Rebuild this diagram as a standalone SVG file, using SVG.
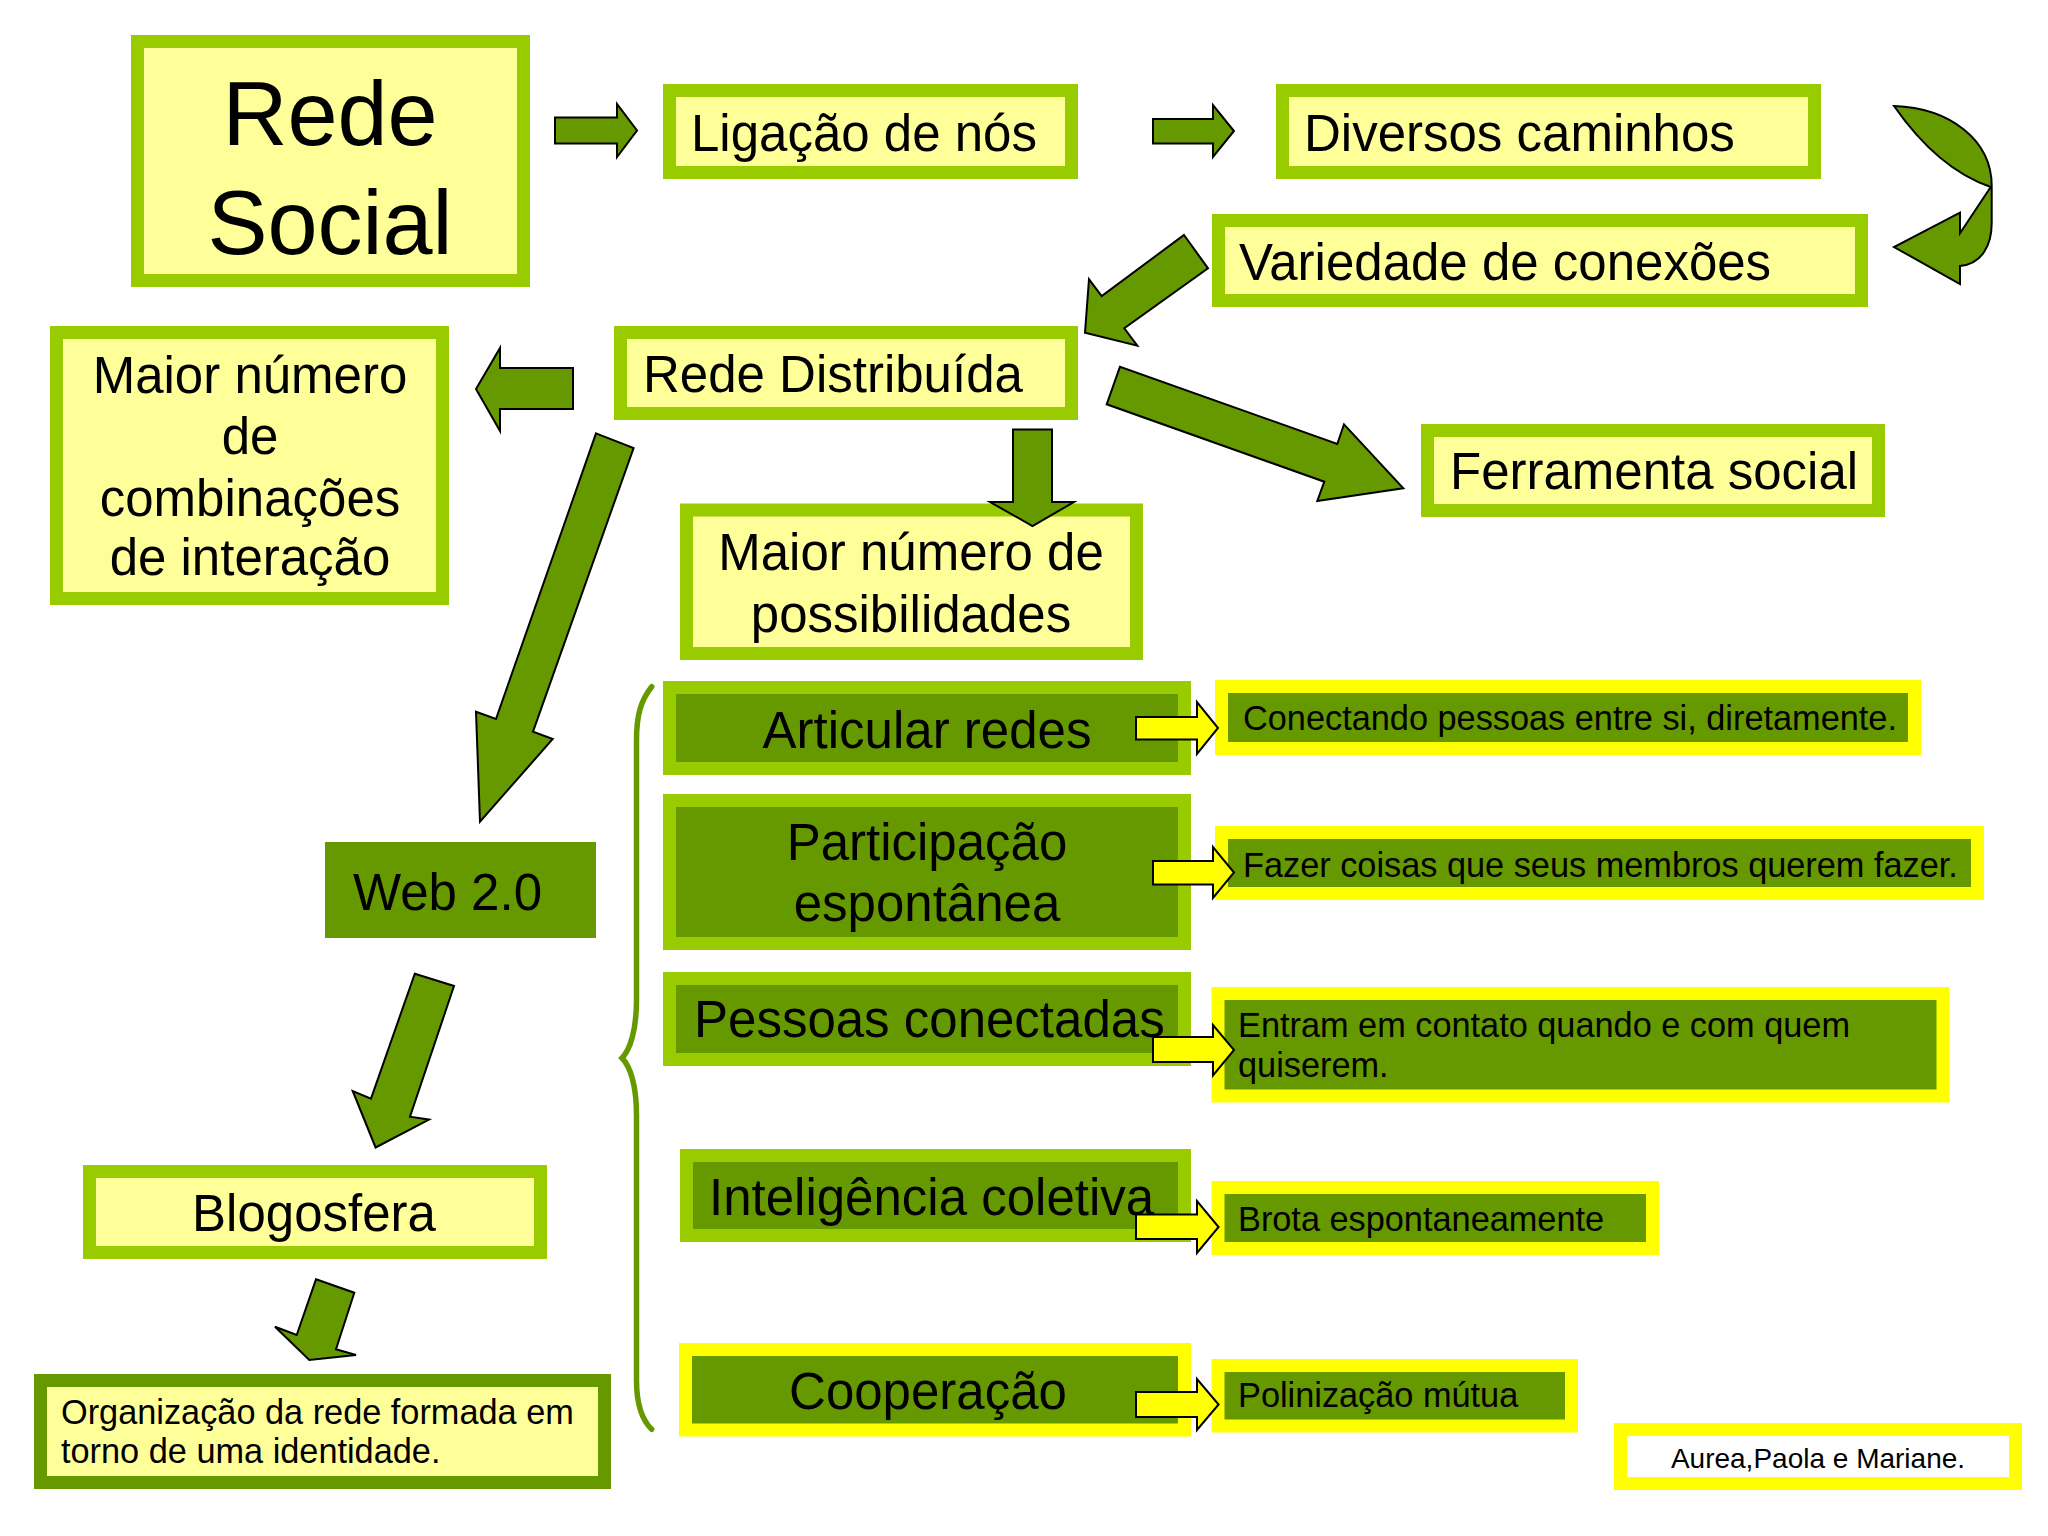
<svg xmlns="http://www.w3.org/2000/svg" width="2048" height="1536" viewBox="0 0 2048 1536">
<style>
text{font-family:"Liberation Sans",Arial,sans-serif;fill:#000}
.lb{fill:#FFFF99;stroke:#99CC00;stroke-width:13}
.db{fill:#669900;stroke:#99CC00;stroke-width:13}
.yb{fill:#669900;stroke:#FFFF00;stroke-width:13}
.ob{fill:#FFFF99;stroke:#669900;stroke-width:13}
.wb{fill:#FFFFFF;stroke:#FFFF00;stroke-width:13}
.t50{font-size:51px}
.t34{font-size:34.3px}
.c{text-anchor:middle}
.ga{fill:#669900;stroke:#000;stroke-width:2;stroke-linejoin:miter}
.ya{fill:#FFFF00;stroke:#000;stroke-width:2}
</style>
<rect width="2048" height="1536" fill="#FFFFFF"/>

<g id="rede-social">
<rect class="lb" x="137.5" y="41.5" width="386" height="239"/>
<text class="c" x="330" y="145" font-size="90">Rede</text>
<text class="c" x="330" y="254" font-size="90">Social</text>
</g>
<g id="ligacao">
<rect class="lb" x="669.5" y="90.5" width="402" height="82"/>
<text class="t50" x="691" y="151">Ligação de nós</text>
</g>
<g id="diversos">
<rect class="lb" x="1282.5" y="90.5" width="532" height="82"/>
<text class="t50" x="1304" y="151">Diversos caminhos</text>
</g>
<g id="variedade">
<rect class="lb" x="1218.5" y="220.5" width="643" height="80"/>
<text class="t50" x="1239" y="280">Variedade de conexões</text>
</g>
<g id="rede-distribuida">
<rect class="lb" x="620.5" y="332.5" width="451" height="81"/>
<text class="t50" x="643" y="392">Rede Distribuída</text>
</g>
<g id="maior-combinacoes">
<rect class="lb" x="56.5" y="332.5" width="386" height="266"/>
<text class="t50 c" x="250" y="393">Maior número</text>
<text class="t50 c" x="250" y="454">de</text>
<text class="t50 c" x="250" y="516">combinações</text>
<text class="t50 c" x="250" y="575">de interação</text>
</g>
<g id="ferramenta">
<rect class="lb" x="1427.5" y="430.5" width="451" height="80"/>
<text class="t50" x="1450" y="489">Ferramenta social</text>
</g>
<g id="maior-possibilidades">
<rect class="lb" x="686.5" y="510" width="450" height="143.5"/>
<text class="t50 c" x="911" y="570">Maior número de</text>
<text class="t50 c" x="911" y="632">possibilidades</text>
</g>
<g id="articular">
<rect class="db" x="669.5" y="687.5" width="515" height="81"/>
<text class="t50 c" x="927" y="748">Articular redes</text>
</g>
<g id="participacao">
<rect class="db" x="669.5" y="800.5" width="515" height="143"/>
<text class="t50 c" x="927" y="860">Participação</text>
<text class="t50 c" x="927" y="921">espontânea</text>
</g>
<g id="pessoas">
<rect class="db" x="669.5" y="978.5" width="515" height="81"/>
<text class="t50" x="694" y="1037">Pessoas conectadas</text>
</g>
<g id="inteligencia">
<rect class="db" x="686.5" y="1155.5" width="498" height="80"/>
<text class="t50" x="709" y="1215">Inteligência coletiva</text>
</g>
<g id="cooperacao">
<rect class="yb" x="685.5" y="1349.5" width="499" height="80.5"/>
<text class="t50 c" x="928" y="1409">Cooperação</text>
</g>
<g id="web20">
<rect x="325" y="842" width="271" height="96" fill="#669900"/>
<text class="t50" x="353" y="910">Web 2.0</text>
</g>
<g id="blogosfera">
<rect class="lb" x="89.5" y="1171.5" width="451" height="81"/>
<text class="t50 c" x="314" y="1231">Blogosfera</text>
</g>
<g id="organizacao">
<rect class="ob" x="40.5" y="1380.5" width="564" height="102"/>
<text class="t34" x="61" y="1424">Organização da rede formada em</text>
<text class="t34" x="61" y="1463">torno de uma identidade.</text>
</g>
<g id="conectando">
<rect class="yb" x="1221.5" y="686.5" width="693" height="62"/>
<text class="t34" x="1243" y="730">Conectando pessoas entre si, diretamente.</text>
</g>
<g id="fazer">
<rect class="yb" x="1221.5" y="832.5" width="756" height="61"/>
<text class="t34" x="1243" y="877">Fazer coisas que seus membros querem fazer.</text>
</g>
<g id="entram">
<rect class="yb" x="1218" y="993.5" width="725" height="102.5"/>
<text class="t34" x="1238" y="1037">Entram em contato quando e com quem</text>
<text class="t34" x="1238" y="1077">quiserem.</text>
</g>
<g id="brota">
<rect class="yb" x="1218" y="1187.5" width="434.5" height="61"/>
<text class="t34" x="1238" y="1231">Brota espontaneamente</text>
</g>
<g id="polinizacao">
<rect class="yb" x="1218" y="1365.5" width="353.5" height="60.5"/>
<text class="t34" x="1238" y="1407">Polinização mútua</text>
</g>
<g id="autores">
<rect class="wb" x="1620.5" y="1429.5" width="395" height="54"/>
<text class="c" x="1818" y="1468" font-size="28">Aurea,Paola e Mariane.</text>
</g>

<g id="connectors">
<path class="ga" d="M555,117.5 H617 V104 L637,130.5 L617,157 V143.5 H555 Z"/>
<path class="ga" d="M1153,119 H1213 V105 L1234,131 L1213,157 V143.5 H1153 Z"/>
<path class="ga" d="M1894,106 C1950,108 1991.7,140 1991.7,186 L1991.7,223 C1991.7,245 1982,264 1960,266 L1960,284 L1894,247 L1960,212.7 L1960,233.3 L1990.7,187 Q1938,169 1894,106 Z"/>
<polygon class="ga" points="1184,235 1208,268.3 1124.3,328.3 1137.3,345.7 1085,332.7 1089,279.3 1101.7,296"/>
<path class="ga" d="M573,368 H500 V348 L476,389 L500,431 V409 H573 Z"/>
<polygon class="ga" points="596,433.4 633.6,448 533,731.7 552.7,739 480,821.7 476,711.7 496,719"/>
<path class="ga" d="M1013,429.5 H1052 V502 H1074 L1032.5,526 L990,502 H1013 Z"/>
<polygon class="ga" points="1120,366.7 1106.7,404.3 1324.3,481.7 1317.3,501 1403.3,488.3 1344,424.3 1337.3,444"/>
<polygon class="ga" points="414.8,973.7 454,986 410,1116.7 429,1119.6 375.6,1147.5 352.7,1091 371,1098.6"/>
<polygon class="ga" points="316,1279.3 354.3,1292.7 336,1349.3 356,1355 309.3,1360 275,1326.7 296.7,1335"/>
<path d="M651.7,686.7 C641,700 636.5,715 636.5,740 L636.5,1000 C636.5,1030 630,1050 622,1058 C630,1066 636.5,1085 636.5,1115 L636.5,1380 C636.5,1405 642,1420 651.7,1429.3" fill="none" stroke="#669900" stroke-width="5.5" stroke-linecap="round"/>
<path class="ya" d="M1136,717 H1197 V702 L1218,728 L1197,754 V739.5 H1136 Z"/>
<path class="ya" d="M1153,861 H1213 V847 L1234,872.5 L1213,898 V884.5 H1153 Z"/>
<path class="ya" d="M1153,1037 H1213 V1025 L1234,1050 L1213,1075.5 V1062 H1153 Z"/>
<path class="ya" d="M1136,1214.6 H1197 V1201 L1218.6,1227 L1197,1253 V1239 H1136 Z"/>
<path class="ya" d="M1136,1392 H1197 V1379 L1218.6,1404.5 L1197,1430 V1417 H1136 Z"/>
</g>
</svg>
